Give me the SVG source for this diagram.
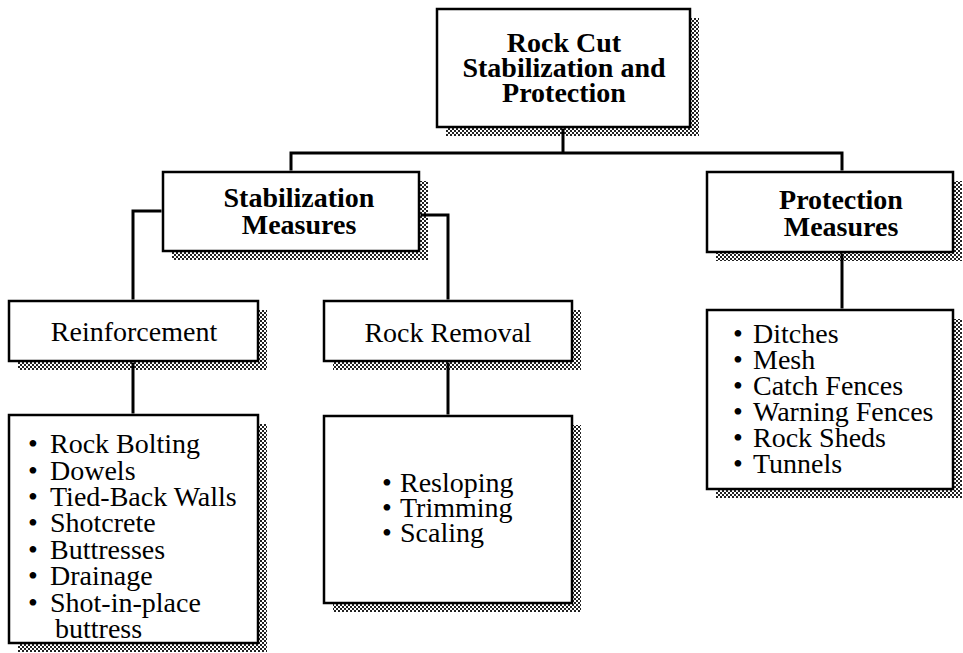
<svg xmlns="http://www.w3.org/2000/svg" width="963" height="653" viewBox="0 0 963 653">
<defs>
<pattern id="hatch" width="4" height="4" patternUnits="userSpaceOnUse">
<rect width="4" height="4" fill="#fff"/>
<path d="M0 0h2v2H0zM2 2h2v2H2z" fill="#222"/>
</pattern>
</defs>
<style>
.box{fill:#fff;stroke:#000;stroke-width:2.5}
.sh{fill:url(#hatch);stroke:none}
.b{font-family:"Liberation Serif","Times New Roman",serif;font-weight:bold;font-size:28px;fill:#000;text-anchor:middle}
.h{font-family:"Liberation Serif","Times New Roman",serif;font-size:28px;fill:#000;text-anchor:middle}
.l{font-family:"Liberation Serif","Times New Roman",serif;font-size:28px;fill:#000}
.c{fill:none;stroke:#000;stroke-width:3}
</style>
<rect width="963" height="653" fill="#fff"/>

<g id="root">
<rect class="sh" x="446" y="18" width="253" height="118"/>
<rect class="box" x="437" y="9" width="253" height="118"/>
<text class="b" x="564" y="52">Rock Cut</text>
<text class="b" x="564" y="77">Stabilization and</text>
<text class="b" x="564" y="102">Protection</text>
</g>

<g id="stabilization">
<rect class="sh" x="172" y="181" width="256" height="79"/>
<rect class="box" x="163" y="172" width="256" height="79"/>
<text class="b" x="299" y="207">Stabilization</text>
<text class="b" x="299" y="234">Measures</text>
</g>

<g id="protection">
<rect class="sh" x="716" y="181" width="246" height="80"/>
<rect class="box" x="707" y="172" width="246" height="80"/>
<text class="b" x="841" y="209">Protection</text>
<text class="b" x="841" y="236">Measures</text>
</g>

<g id="reinforcement">
<rect class="sh" x="18" y="310" width="249" height="60"/>
<rect class="box" x="9" y="301" width="249" height="60"/>
<text class="h" x="134" y="341">Reinforcement</text>
</g>

<g id="rockremoval">
<rect class="sh" x="333" y="310" width="248" height="60"/>
<rect class="box" x="324" y="301" width="248" height="60"/>
<text class="h" x="448" y="342">Rock Removal</text>
</g>

<g id="reinforcement-list">
<rect class="sh" x="18" y="424" width="249" height="228"/>
<rect class="box" x="9" y="415" width="249" height="228"/>
<text class="l" x="28" y="453">• <tspan x="50">Rock Bolting</tspan></text>
<text class="l" x="28" y="479.5">• <tspan x="50">Dowels</tspan></text>
<text class="l" x="28" y="506">• <tspan x="50">Tied-Back Walls</tspan></text>
<text class="l" x="28" y="532">• <tspan x="50">Shotcrete</tspan></text>
<text class="l" x="28" y="559">• <tspan x="50">Buttresses</tspan></text>
<text class="l" x="28" y="585">• <tspan x="50">Drainage</tspan></text>
<text class="l" x="28" y="612">• <tspan x="50">Shot-in-place</tspan></text>
<text class="l" x="55" y="638">buttress</text>
</g>

<g id="rockremoval-list">
<rect class="sh" x="333" y="425" width="248" height="187"/>
<rect class="box" x="324" y="416" width="248" height="187"/>
<text class="l" x="382" y="492">• <tspan x="400">Resloping</tspan></text>
<text class="l" x="382" y="517">• <tspan x="400">Trimming</tspan></text>
<text class="l" x="382" y="542">• <tspan x="400">Scaling</tspan></text>
</g>

<g id="protection-list">
<rect class="sh" x="716" y="319" width="246" height="179"/>
<rect class="box" x="707" y="310" width="246" height="179"/>
<text class="l" x="733" y="343">• <tspan x="753">Ditches</tspan></text>
<text class="l" x="733" y="369">• <tspan x="753">Mesh</tspan></text>
<text class="l" x="733" y="395">• <tspan x="753">Catch Fences</tspan></text>
<text class="l" x="733" y="421">• <tspan x="753">Warning Fences</tspan></text>
<text class="l" x="733" y="447">• <tspan x="753">Rock Sheds</tspan></text>
<text class="l" x="733" y="473">• <tspan x="753">Tunnels</tspan></text>
</g>

<g id="connectors">
<path class="c" d="M563 128.5V153M291 170.5V153H842V170.5"/>
<path class="c" d="M161.5 211H133V299.5"/>
<path class="c" d="M420.5 215H448V299.5"/>
<path class="c" d="M133 362.5V413.5"/>
<path class="c" d="M448 362.5V414.5"/>
<path class="c" d="M842 253.5V308.5"/>
</g>
</svg>
